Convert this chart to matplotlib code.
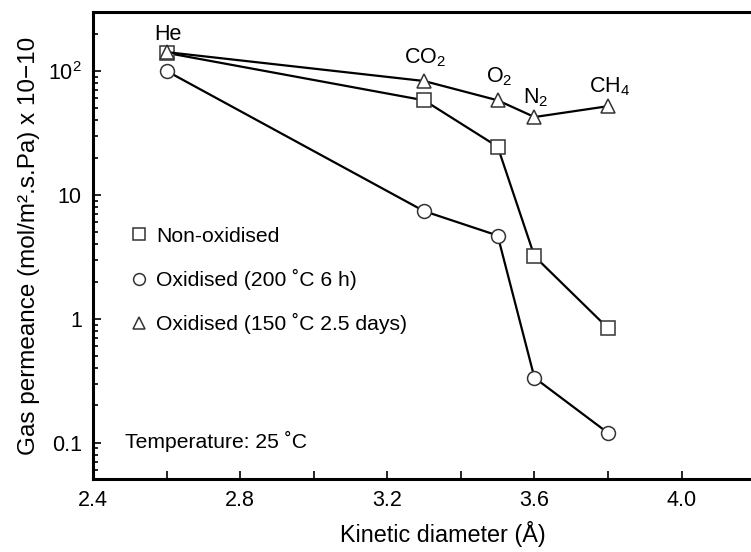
"""gas permeance vs kinetic diameter for oxidised / non-oxidised membranes"""
import matplotlib
matplotlib.use("Agg")
import matplotlib.pyplot as plt
from matplotlib.lines import Line2D
from matplotlib.ticker import FixedLocator, FixedFormatter, LogLocator, NullFormatter, MultipleLocator

plt.rcParams['font.family'] = ['Liberation Sans', 'DejaVu Sans']
plt.rcParams['mathtext.fontset'] = 'custom'
plt.rcParams['mathtext.rm'] = 'Liberation Sans'
plt.rcParams['mathtext.it'] = 'Liberation Sans'

# kinetic diameters (angstrom) of the gases
gases = ["He", "CO$_2$", "O$_2$", "N$_2$", "CH$_4$"]
diameter = [2.6, 3.3, 3.5, 3.6, 3.8]

# permeance, mol/m2.s.Pa x 1e-10
non_oxidised = [140, 58, 24.5, 3.2, 0.84]
oxidised_200 = [100, 7.4, 4.7, 0.335, 0.12]
oxidised_150 = [142, 83, 58, 42.5, 52]

labels = ["Non-oxidised", "Oxidised (200 \u02daC 6 h)", "Oxidised (150 \u02daC 2.5 days)"]

# label offsets above the triangle series (points)
label_dy = [5, 9, 9, 5.5, 6]

fig = plt.figure(figsize=(7.51, 5.52), dpi=100)
ax = fig.add_axes([0.1238, 0.1322, 0.9308, 0.846])

line_kw = dict(color='black', lw=1.6, mfc='white', mec='#333333', mew=1.1, ms=10, zorder=3)
ax.plot(diameter, non_oxidised, marker='s', **line_kw)
ax.plot(diameter, oxidised_200, marker='o', **line_kw)
ax.plot(diameter, oxidised_150, marker='^', **line_kw)

for name, x, y, dy in zip(gases, diameter, oxidised_150, label_dy):
    ax.annotate(name, xy=(x, y), xytext=(1, dy), textcoords='offset points',
                ha='center', va='bottom', fontsize=15.5)

ax.set_yscale('log')
ax.set_xlim(2.4, 4.3)
ax.set_ylim(0.051, 299)

ax.xaxis.set_major_locator(FixedLocator([2.4, 2.8, 3.2, 3.6, 4.0]))
ax.xaxis.set_major_formatter(FixedFormatter(["2.4", "2.8", "3.2", "3.6", "4.0"]))
ax.xaxis.set_minor_locator(MultipleLocator(0.2))
ax.yaxis.set_major_locator(FixedLocator([0.1, 1, 10, 100]))
ax.yaxis.set_major_formatter(FixedFormatter(["0.1", "1", "10", "10$^2$"]))
ax.yaxis.set_minor_locator(LogLocator(base=10, subs=range(2, 10)))
ax.yaxis.set_minor_formatter(NullFormatter())

ax.tick_params(which='both', direction='in', width=1.2, labelsize=15.5, pad=8)
ax.tick_params(which='major', length=6)
ax.tick_params(axis='x', which='minor', length=6)
ax.tick_params(axis='y', which='minor', length=3.5)

for side in ['left', 'bottom', 'top']:
    ax.spines[side].set_linewidth(2.2)
ax.spines['right'].set_visible(False)

ax.set_xlabel("Kinetic diameter (\u00c5)", fontsize=16.8, labelpad=7)
ax.set_ylabel("Gas permeance (mol/m\u00b2.s.Pa) x 10\u221210", fontsize=17.5, labelpad=6)

handles = [Line2D([], [], ls='none', marker=m, mfc='white', mec='#333333', mew=1.1, ms=8.5)
           for m in ['s', 'o', '^']]
ax.legend(handles, labels, loc='upper left', bbox_to_anchor=(0.042, 0.558),
          frameon=False, fontsize=15.2, handlelength=0.8, handletextpad=0.4,
          labelspacing=1.1, borderaxespad=0)

ax.text(0.046, 0.08, "Temperature: 25 \u02daC", transform=ax.transAxes,
        fontsize=15.2, ha='left', va='center')

fig.savefig("out.png", dpi=100)
